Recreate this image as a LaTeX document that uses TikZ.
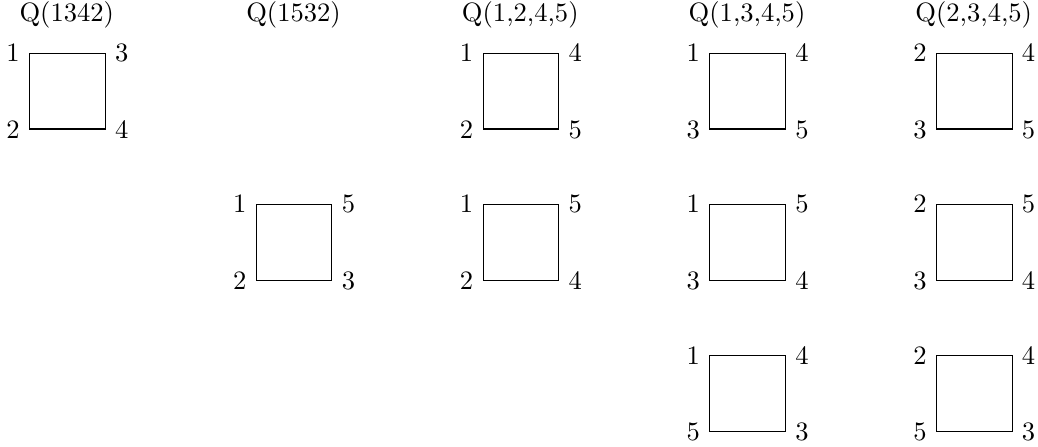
\documentclass[tikz,border=0pt]{standalone}
\usetikzlibrary{positioning}
\tikzset{
  sqbox/.style={draw, line width=0.4pt, minimum width=1cm, minimum height=1cm, inner sep=0pt, anchor=north west},
  cornerlbl/.style={inner sep=0.333em},
  titlelbl/.style={inner sep=0pt}
}
\newcommand{\qsquare}[7]{%
  \node[sqbox] (#3) at (#1,#2) {};
  \node[cornerlbl, anchor=east] (#3tl) at (#3.north west) {#4};
  \node[cornerlbl, anchor=west] (#3tr) at (#3.north east) {#5};
  \node[cornerlbl, anchor=east] (#3bl) at (#3.south west) {#6};
  \node[cornerlbl, anchor=west] (#3br) at (#3.south east) {#7};
}
\begin{document}
\begin{tikzpicture}
\useasboundingbox (-0.384,-5.21) rectangle (13.35,0.70);
% titles
\node[titlelbl] (t1) at (0.5,0.5) {Q(1342)};
\node[titlelbl] (t2) at (3.5,0.5) {Q(1532)};
\node[titlelbl] (t3) at (6.5,0.5) {Q(1,2,4,5)};
\node[titlelbl] (t4) at (9.5,0.5) {Q(1,3,4,5)};
\node[titlelbl] (t5) at (12.5,0.5) {Q(2,3,4,5)};
% column 1
\qsquare{0}{0}{aa}{1}{3}{2}{4}
% column 2
\qsquare{3}{-2}{bb}{1}{5}{2}{3}
% column 3
\qsquare{6}{0}{ca}{1}{4}{2}{5}
\qsquare{6}{-2}{cb}{1}{5}{2}{4}
% column 4
\qsquare{9}{0}{da}{1}{4}{3}{5}
\qsquare{9}{-2}{db}{1}{5}{3}{4}
\qsquare{9}{-4}{dc}{1}{4}{5}{3}
% column 5
\qsquare{12}{0}{ea}{2}{4}{3}{5}
\qsquare{12}{-2}{eb}{2}{5}{3}{4}
\qsquare{12}{-4}{ec}{2}{4}{5}{3}
\end{tikzpicture}
\end{document}
